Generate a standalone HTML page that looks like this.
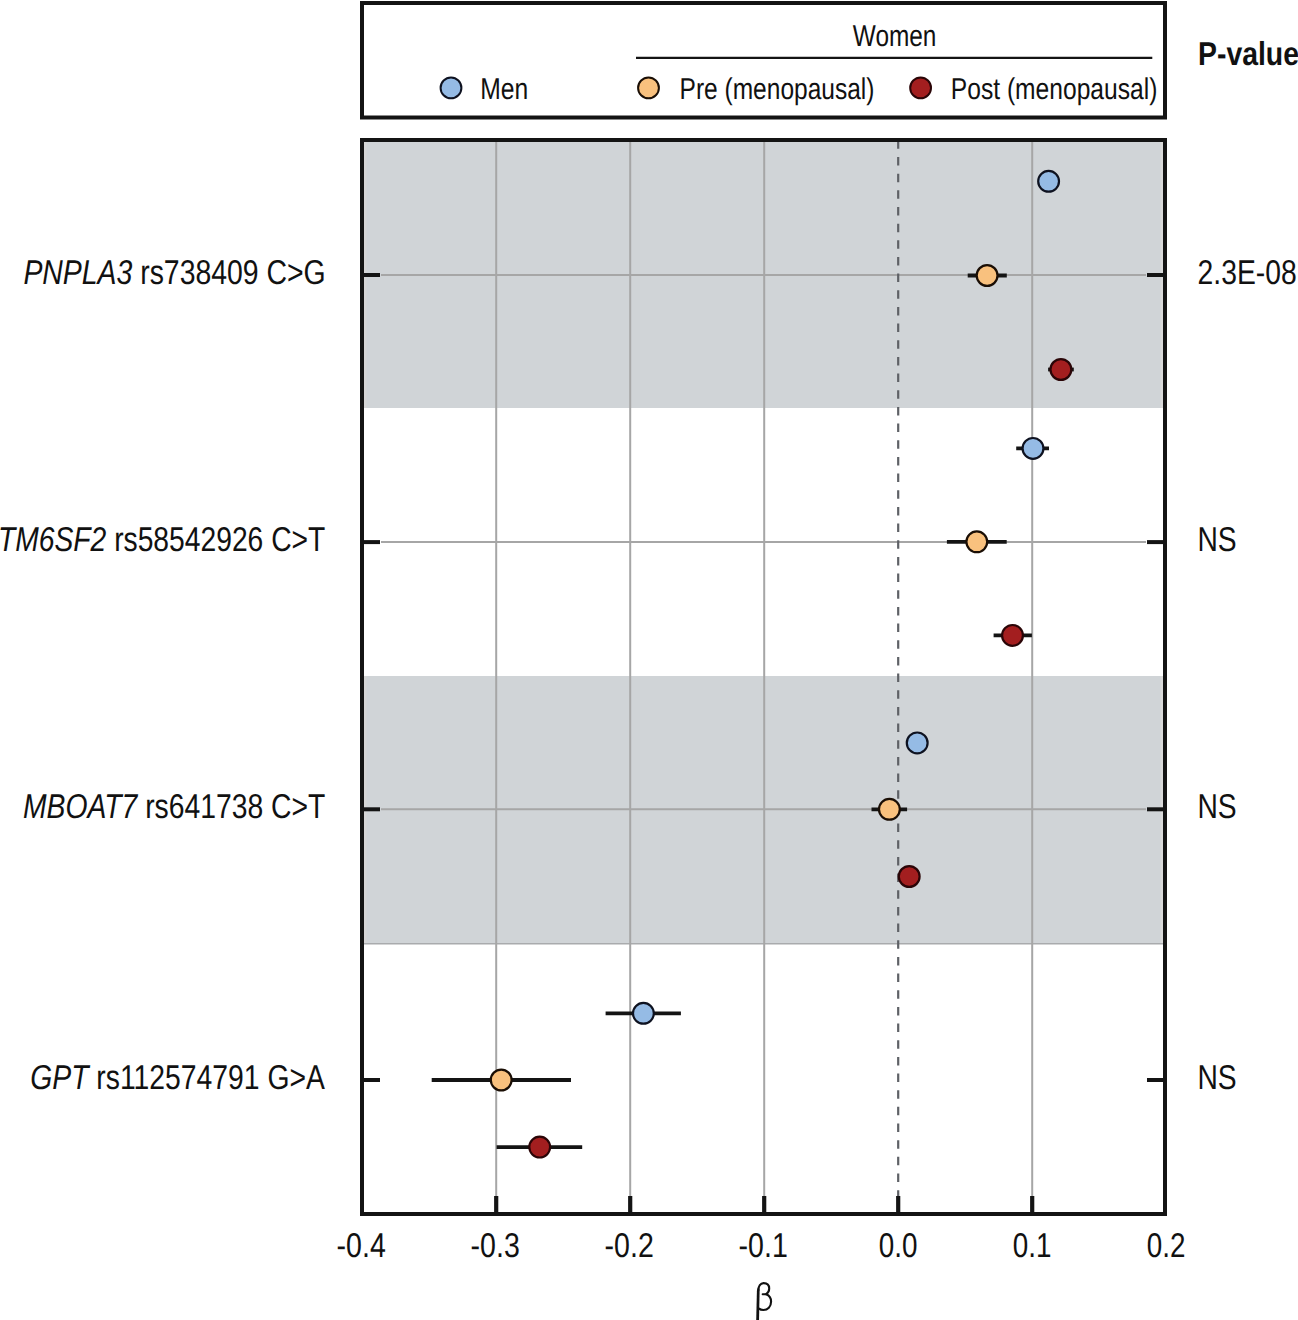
<!DOCTYPE html><html><head><meta charset="utf-8"><style>html,body{margin:0;padding:0;background:#fff;}svg{display:block;}text{font-family:"Liberation Sans",sans-serif;fill:#111;text-rendering:geometricPrecision;}</style></head><body>
<svg width="1298" height="1320" viewBox="0 0 1298 1320">
<rect x="0" y="0" width="1298" height="1320" fill="#fff"/>
<rect x="364" y="142" width="799" height="266" fill="#d0d4d7"/>
<rect x="364" y="676" width="799" height="267.5" fill="#d0d4d7"/>
<line x1="364" y1="943.7" x2="1163" y2="943.7" stroke="#a9abad" stroke-width="1.6"/>
<rect x="364" y="142" width="2.6" height="266" fill="#d6d6d6"/>
<rect x="1160.6" y="142" width="2.4" height="266" fill="#dadada"/>
<rect x="364" y="676" width="2.6" height="267" fill="#d6d6d6"/>
<rect x="1160.6" y="676" width="2.4" height="267" fill="#dadada"/>
<line x1="496.2" y1="142" x2="496.2" y2="1196" stroke="#a6a6a6" stroke-width="2"/>
<line x1="630.2" y1="142" x2="630.2" y2="1196" stroke="#a6a6a6" stroke-width="2"/>
<line x1="764.2" y1="142" x2="764.2" y2="1196" stroke="#a6a6a6" stroke-width="2"/>
<line x1="1032.2" y1="142" x2="1032.2" y2="1196" stroke="#a6a6a6" stroke-width="2"/>
<line x1="381" y1="275" x2="1146" y2="275" stroke="#a6a6a6" stroke-width="2"/>
<line x1="381" y1="542.1" x2="1146" y2="542.1" stroke="#a6a6a6" stroke-width="2"/>
<line x1="381" y1="809.3" x2="1146" y2="809.3" stroke="#a6a6a6" stroke-width="2"/>
<line x1="898.2" y1="140.3" x2="898.2" y2="1196" stroke="#5e6166" stroke-width="2.2" stroke-dasharray="8.5 8.165"/>
<line x1="364" y1="275" x2="380" y2="275" stroke="#141414" stroke-width="4"/>
<line x1="1147" y1="275" x2="1163" y2="275" stroke="#141414" stroke-width="4"/>
<line x1="364" y1="542.1" x2="380" y2="542.1" stroke="#141414" stroke-width="4"/>
<line x1="1147" y1="542.1" x2="1163" y2="542.1" stroke="#141414" stroke-width="4"/>
<line x1="364" y1="809.3" x2="380" y2="809.3" stroke="#141414" stroke-width="4"/>
<line x1="1147" y1="809.3" x2="1163" y2="809.3" stroke="#141414" stroke-width="4"/>
<line x1="364" y1="1080" x2="380" y2="1080" stroke="#141414" stroke-width="4"/>
<line x1="1147" y1="1080" x2="1163" y2="1080" stroke="#141414" stroke-width="4"/>
<line x1="496.2" y1="1196" x2="496.2" y2="1212" stroke="#141414" stroke-width="4.2"/>
<line x1="630.2" y1="1196" x2="630.2" y2="1212" stroke="#141414" stroke-width="4.2"/>
<line x1="764.2" y1="1196" x2="764.2" y2="1212" stroke="#141414" stroke-width="4.2"/>
<line x1="898.2" y1="1196" x2="898.2" y2="1212" stroke="#141414" stroke-width="4.2"/>
<line x1="1032.2" y1="1196" x2="1032.2" y2="1212" stroke="#141414" stroke-width="4.2"/>
<rect x="362" y="3" width="803" height="114.5" fill="none" stroke="#141414" stroke-width="4"/>
<rect x="362" y="140" width="803" height="1074" fill="none" stroke="#141414" stroke-width="4"/>
<line x1="967.7" y1="275.5" x2="1006.8" y2="275.5" stroke="#141414" stroke-width="3.8"/>
<line x1="1048.1" y1="369.5" x2="1073.8" y2="369.5" stroke="#141414" stroke-width="3.8"/>
<line x1="1016.2" y1="448.4" x2="1049.0" y2="448.4" stroke="#141414" stroke-width="3.8"/>
<line x1="946.9" y1="541.8" x2="1006.7" y2="541.8" stroke="#141414" stroke-width="3.8"/>
<line x1="993.6" y1="635.4" x2="1031.9" y2="635.4" stroke="#141414" stroke-width="3.8"/>
<line x1="871.5" y1="809.3" x2="907.1" y2="809.3" stroke="#141414" stroke-width="3.8"/>
<line x1="605.6" y1="1013.3" x2="680.9" y2="1013.3" stroke="#141414" stroke-width="3.8"/>
<line x1="431.7" y1="1080.0" x2="571.0" y2="1080.0" stroke="#141414" stroke-width="3.8"/>
<line x1="496.6" y1="1147.1" x2="582.2" y2="1147.1" stroke="#141414" stroke-width="3.8"/>
<circle cx="1048.6" cy="181.3" r="10.4" fill="#95bbe5" stroke="#0e1220" stroke-width="2.2"/>
<circle cx="987.1" cy="275.5" r="10.4" fill="#f9c17e" stroke="#1a0e05" stroke-width="2.2"/>
<circle cx="1060.9" cy="369.5" r="10.4" fill="#a31e1f" stroke="#2a0507" stroke-width="2.2"/>
<circle cx="1033.0" cy="448.4" r="10.4" fill="#95bbe5" stroke="#0e1220" stroke-width="2.2"/>
<circle cx="976.8" cy="541.8" r="10.4" fill="#f9c17e" stroke="#1a0e05" stroke-width="2.2"/>
<circle cx="1012.5" cy="635.4" r="10.4" fill="#a31e1f" stroke="#2a0507" stroke-width="2.2"/>
<circle cx="917.2" cy="742.9" r="10.4" fill="#95bbe5" stroke="#0e1220" stroke-width="2.2"/>
<circle cx="889.4" cy="809.3" r="10.4" fill="#f9c17e" stroke="#1a0e05" stroke-width="2.2"/>
<circle cx="909.2" cy="876.5" r="10.4" fill="#a31e1f" stroke="#2a0507" stroke-width="2.2"/>
<circle cx="643.4" cy="1013.3" r="10.4" fill="#95bbe5" stroke="#0e1220" stroke-width="2.2"/>
<circle cx="501.2" cy="1080.0" r="10.4" fill="#f9c17e" stroke="#1a0e05" stroke-width="2.2"/>
<circle cx="539.7" cy="1147.1" r="10.4" fill="#a31e1f" stroke="#2a0507" stroke-width="2.2"/>
<line x1="636" y1="57.9" x2="1152.3" y2="57.9" stroke="#141414" stroke-width="2.1"/>
<circle cx="451" cy="87.9" r="10.4" fill="#95bbe5" stroke="#0e1220" stroke-width="2"/>
<circle cx="648.5" cy="87.9" r="10.4" fill="#f9c17e" stroke="#1a0e05" stroke-width="2"/>
<circle cx="920.6" cy="87.9" r="10.4" fill="#a31e1f" stroke="#2a0507" stroke-width="2"/>
<text x="852.8" y="45.5" font-size="30.0" textLength="83.6" lengthAdjust="spacingAndGlyphs">Women</text>
<text x="480.2" y="98.6" font-size="30.0" textLength="48" lengthAdjust="spacingAndGlyphs">Men</text>
<text x="679.6" y="98.6" font-size="30.0" textLength="194.8" lengthAdjust="spacingAndGlyphs">Pre (menopausal)</text>
<text x="950.8" y="98.6" font-size="30.0" textLength="206.6" lengthAdjust="spacingAndGlyphs">Post (menopausal)</text>
<text x="1198" y="64.7" font-size="33.2" font-weight="bold" textLength="101" lengthAdjust="spacingAndGlyphs">P-value</text>
<text x="23.4" y="283.5" font-size="34.4" textLength="302.3" lengthAdjust="spacingAndGlyphs"><tspan font-style="italic">PNPLA3</tspan> rs738409 C&gt;G</text>
<text x="-2.0" y="550.5" font-size="34.4" textLength="327.3" lengthAdjust="spacingAndGlyphs"><tspan font-style="italic">TM6SF2</tspan> rs58542926 C&gt;T</text>
<text x="23.0" y="817.6" font-size="34.4" textLength="302.3" lengthAdjust="spacingAndGlyphs"><tspan font-style="italic">MBOAT7</tspan> rs641738 C&gt;T</text>
<text x="30.3" y="1088.5" font-size="34.4" textLength="294.6" lengthAdjust="spacingAndGlyphs"><tspan font-style="italic">GPT</tspan> rs112574791 G&gt;A</text>
<text x="1197.6" y="283.6" font-size="34.4" textLength="99.2" lengthAdjust="spacingAndGlyphs">2.3E-08</text>
<text x="1197.4" y="550.9" font-size="34.4" textLength="39.2" lengthAdjust="spacingAndGlyphs">NS</text>
<text x="1197.4" y="817.9" font-size="34.4" textLength="39.2" lengthAdjust="spacingAndGlyphs">NS</text>
<text x="1197.4" y="1088.7" font-size="34.4" textLength="39.2" lengthAdjust="spacingAndGlyphs">NS</text>
<text x="361.2" y="1256.7" font-size="34.4" text-anchor="middle" textLength="49.2" lengthAdjust="spacingAndGlyphs">-0.4</text>
<text x="495.2" y="1256.7" font-size="34.4" text-anchor="middle" textLength="49.2" lengthAdjust="spacingAndGlyphs">-0.3</text>
<text x="629.2" y="1256.7" font-size="34.4" text-anchor="middle" textLength="49.2" lengthAdjust="spacingAndGlyphs">-0.2</text>
<text x="763.2" y="1256.7" font-size="34.4" text-anchor="middle" textLength="49.2" lengthAdjust="spacingAndGlyphs">-0.1</text>
<text x="898.2" y="1256.7" font-size="34.4" text-anchor="middle" textLength="38.7" lengthAdjust="spacingAndGlyphs">0.0</text>
<text x="1032.2" y="1256.7" font-size="34.4" text-anchor="middle" textLength="38.7" lengthAdjust="spacingAndGlyphs">0.1</text>
<text x="1166.2" y="1256.7" font-size="34.4" text-anchor="middle" textLength="38.7" lengthAdjust="spacingAndGlyphs">0.2</text>
<path d="M758.3 1291 C758.3 1286 760.6 1283.1 763.6 1283.1 C767.3 1283.1 769.2 1285.5 769.2 1288.6 C769.2 1291.4 767.9 1293.2 766.2 1294.2 C769.3 1295.4 771.1 1298.3 771.1 1301.6 C771.1 1306.8 767.7 1310 763.4 1310 C761.6 1310 760 1309.5 758.7 1308.4" fill="none" stroke="#111" stroke-width="2.1"/>
<path d="M756.2 1321 L756.9 1291 C757.1 1289.5 757.4 1288.5 757.8 1287.6 L759.3 1288.2 C759.5 1289 759.6 1290 759.6 1291 L759.0 1321 Z" fill="#111"/>
<path d="M762.6 1294.3 L766.4 1294.3" stroke="#111" stroke-width="1.9" stroke-linecap="round"/>
</svg></body></html>
